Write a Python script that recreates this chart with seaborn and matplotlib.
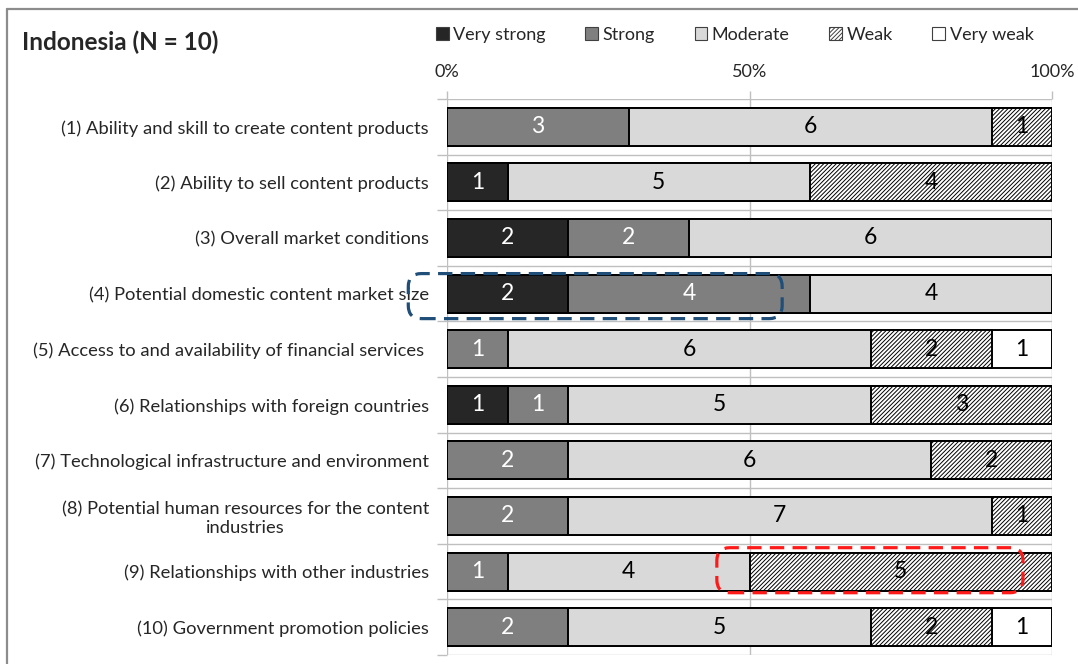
import matplotlib
matplotlib.use("Agg")
import matplotlib.pyplot as plt
import matplotlib.patches as mpatches
import matplotlib.transforms as mtransforms
from matplotlib.lines import Line2D
import numpy as np
import seaborn as sns

# ---- data -------------------------------------------------------------
title = "Indonesia (N = 10)"
n_resp = 10
categories = [
    "(1) Ability and skill to create content products",
    "(2) Ability to sell content products",
    "(3) Overall market conditions",
    "(4) Potential domestic content market size",
    "(5) Access to and availability of financial services ",
    "(6) Relationships with foreign countries",
    "(7) Technological infrastructure and environment",
    "(8) Potential human resources for the content\nindustries",
    "(9) Relationships with other industries",
    "(10) Government promotion policies",
]
levels = ["Very strong", "Strong", "Moderate", "Weak", "Very weak"]
very_strong = [0, 1, 2, 2, 0, 1, 0, 0, 0, 0]
strong      = [3, 0, 2, 4, 1, 1, 2, 2, 1, 2]
moderate    = [6, 5, 6, 4, 6, 5, 6, 7, 4, 5]
weak        = [1, 4, 0, 0, 2, 3, 2, 1, 5, 2]
very_weak   = [0, 0, 0, 0, 1, 0, 0, 0, 0, 1]
x_ticks = [0, 50, 100]
x_ticklabels = ["0%", "50%", "100%"]

# ---- styles -----------------------------------------------------------
fills = ["#262626", "#7f7f7f", "#d9d9d9", "white", "white"]
hatches = [None, None, None, "////////", None]
text_colors = ["white", "white", "black", "black", "black"]
grid_color = "#bfbfbf"

sns.set_theme(style="white")
plt.rcParams["font.family"] = ["Lato", "DejaVu Sans"]
plt.rcParams["hatch.linewidth"] = 0.7

fig = plt.figure(figsize=(10.78, 6.64), dpi=100)
ax = fig.add_axes([447 / 1078, 1 - 655 / 664, 605 / 1078, 556 / 664])

counts = np.array([very_strong, strong, moderate, weak, very_weak], dtype=float)
pct = counts / n_resp * 100
cum = np.cumsum(pct, axis=0)

# stacked bars: draw the widest cumulative layer first so narrower ones sit on top
for k in range(len(levels) - 1, -1, -1):
    kw = {}
    if hatches[k]:
        kw["hatch"] = hatches[k]
    sns.barplot(x=cum[k], y=categories, order=categories, orient="h",
                color=fills[k], saturation=1, edgecolor="black",
                linewidth=1.4, width=0.68, ax=ax, zorder=3, **kw)

# value labels
for k in range(len(levels)):
    left = cum[k] - pct[k]
    for i in range(len(categories)):
        if counts[k, i] > 0:
            ax.text(left[i] + pct[k, i] / 2, i, f"{int(counts[k, i])}",
                    ha="center", va="center", fontsize=16.5,
                    color=text_colors[k], zorder=5)

# ---- axes -------------------------------------------------------------
ax.set_xlim(0, 100)
ax.set_ylim(len(categories) - 0.5, -0.5)
ax.set_xlabel("")
ax.set_ylabel("")
for s in ax.spines.values():
    s.set_visible(False)

ax.xaxis.tick_top()
ax.set_xticks(x_ticks)
ax.set_xticklabels(x_ticklabels, fontsize=13)
ax.tick_params(axis="x", which="major", top=True, length=6, width=1,
               color=grid_color, pad=8)
ax.xaxis.grid(True, color=grid_color, linewidth=1, zorder=0)

ax.set_yticks(range(len(categories)))
ax.set_yticklabels(categories, fontsize=13.2, multialignment="center")
ax.set_yticks(np.arange(-0.5, len(categories), 1), minor=True)
ax.tick_params(axis="y", which="major", left=True, length=0, pad=13)
ax.tick_params(axis="y", which="minor", left=True, length=7, width=1,
               color=grid_color)
ax.yaxis.grid(True, which="minor", color=grid_color, linewidth=1, zorder=0)
ax.yaxis.grid(False, which="major")
ax.set_axisbelow(True)

# ---- title & legend ---------------------------------------------------
fig.text(22 / 1078, 1 - 42 / 664, title, fontsize=17.5, fontweight="bold",
         ha="left", va="center")

handles = [mpatches.Patch(facecolor=fills[k], edgecolor="#404040",
                          linewidth=0.8, hatch=hatches[k], label=levels[k])
           for k in range(len(levels))]
fig.legend(handles=handles, loc="center left",
           bbox_to_anchor=(436 / 1078, 1 - 35 / 664), ncol=5, frameon=False,
           fontsize=13, handlelength=0.7, handleheight=0.7,
           handletextpad=0.25, columnspacing=2.2, borderaxespad=0,
           borderpad=0)

# ---- highlight boxes around notable segments --------------------------
fig.canvas.draw()


def highlight(x0, x1, row, dy0, dy1, color):
    (px0, py0) = ax.transData.transform((x0, row + dy1))
    (px1, py1) = ax.transData.transform((x1, row + dy0))
    box = mpatches.FancyBboxPatch(
        (px0, py0), px1 - px0, py1 - py0,
        boxstyle="round,pad=0,rounding_size=13",
        transform=mtransforms.IdentityTransform(), fill=False,
        edgecolor=color, linewidth=2.3, linestyle=(0, (4.5, 2.6)),
        zorder=10, clip_on=False)
    fig.patches.append(box)


highlight(-6.4, 55.4, 3, -0.36, 0.45, "#1f4e79")
highlight(44.6, 95.2, 8, -0.43, 0.38, "#ff1a1a")

# ---- outer frame (top and left edges) ---------------------------------
frame_kw = dict(color="#8c8c8c", linewidth=1.6, transform=fig.transFigure)
fig.lines.append(Line2D([7 / 1078, 1.0], [1 - 9 / 664, 1 - 9 / 664], **frame_kw))
fig.lines.append(Line2D([7 / 1078, 7 / 1078], [0, 1 - 9 / 664], **frame_kw))

fig.savefig("out.png", dpi=100)
